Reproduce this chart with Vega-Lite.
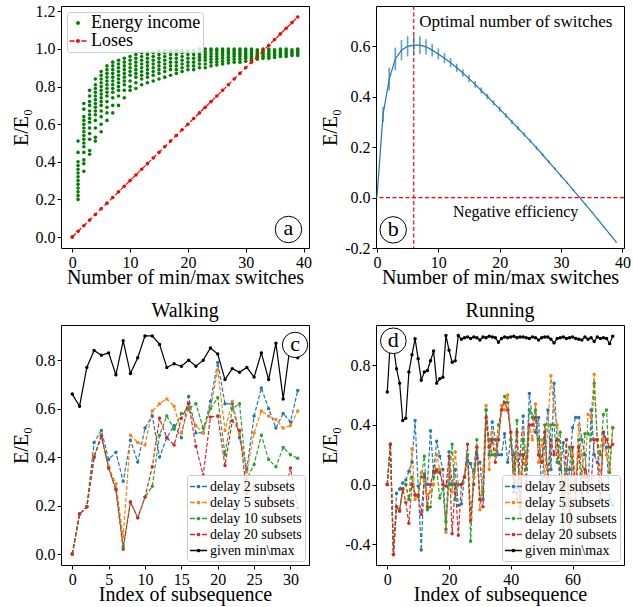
{
"$schema":"https://vega.github.io/schema/vega-lite/v6.json",
"padding":{"left":10,"top":2,"right":5,"bottom":2},
"background":"white",
"config":{
 "font":"Liberation Serif",
 "view":{"stroke":"black","strokeWidth":1},
 "axis":{"domain":false,"grid":false,"tickColor":"black","tickSize":4,"tickWidth":1,"labelColor":"black","labelFontSize":16,"labelPadding":2,"titleFontSize":20,"titleFontWeight":"normal","titleColor":"black","labelFlush":false,"labelOverlap":false},
 "axisY":{"titlePadding":4},
 "axisX":{"titlePadding":-3},
 "title":{"fontSize":20,"fontWeight":"normal","offset":0,"color":"black"},
 "legend":{"fillColor":"rgba(255,255,255,0.8)","strokeColor":"#cccccc","cornerRadius":3,"labelColor":"black"}
},
"resolve":{"scale":{"color":"independent","shape":"independent"},"legend":{"color":"independent","shape":"independent"}},
"datasets":{
"energy":[{"x":0,"y":0},
{"x":1,"y":0.2},{"x":1,"y":0.22},{"x":1,"y":0.24},{"x":1,"y":0.26},{"x":1,"y":0.28},{"x":1,"y":0.3},{"x":1,"y":0.32},{"x":1,"y":0.34},{"x":1,"y":0.36},{"x":1,"y":0.38},{"x":1,"y":0.4},{"x":1,"y":0.45},{"x":1,"y":0.51},
{"x":2,"y":0.35},{"x":2,"y":0.39},{"x":2,"y":0.41},{"x":2,"y":0.45},{"x":2,"y":0.48},{"x":2,"y":0.5},{"x":2,"y":0.52},{"x":2,"y":0.54},{"x":2,"y":0.56},{"x":2,"y":0.58},{"x":2,"y":0.6},{"x":2,"y":0.62},{"x":2,"y":0.64},{"x":2,"y":0.68},{"x":2,"y":0.71},
{"x":3,"y":0.44},{"x":3,"y":0.46},{"x":3,"y":0.52},{"x":3,"y":0.55},{"x":3,"y":0.58},{"x":3,"y":0.61},{"x":3,"y":0.63},{"x":3,"y":0.65},{"x":3,"y":0.67},{"x":3,"y":0.7},{"x":3,"y":0.72},{"x":3,"y":0.75},{"x":3,"y":0.78},
{"x":4,"y":0.51},{"x":4,"y":0.53},{"x":4,"y":0.58},{"x":4,"y":0.62},{"x":4,"y":0.65},{"x":4,"y":0.67},{"x":4,"y":0.69},{"x":4,"y":0.71},{"x":4,"y":0.73},{"x":4,"y":0.75},{"x":4,"y":0.77},{"x":4,"y":0.79},{"x":4,"y":0.81},{"x":4,"y":0.84},
{"x":5,"y":0.56},{"x":5,"y":0.6},{"x":5,"y":0.64},{"x":5,"y":0.67},{"x":5,"y":0.7},{"x":5,"y":0.72},{"x":5,"y":0.74},{"x":5,"y":0.76},{"x":5,"y":0.78},{"x":5,"y":0.8},{"x":5,"y":0.82},{"x":5,"y":0.84},{"x":5,"y":0.86},{"x":5,"y":0.88},
{"x":6,"y":0.62},{"x":6,"y":0.66},{"x":6,"y":0.69},{"x":6,"y":0.72},{"x":6,"y":0.75},{"x":6,"y":0.77},{"x":6,"y":0.79},{"x":6,"y":0.81},{"x":6,"y":0.83},{"x":6,"y":0.85},{"x":6,"y":0.87},{"x":6,"y":0.89},{"x":6,"y":0.91},
{"x":7,"y":0.66},{"x":7,"y":0.7},{"x":7,"y":0.74},{"x":7,"y":0.77},{"x":7,"y":0.79},{"x":7,"y":0.81},{"x":7,"y":0.83},{"x":7,"y":0.85},{"x":7,"y":0.87},{"x":7,"y":0.89},{"x":7,"y":0.91},{"x":7,"y":0.93},
{"x":8,"y":0.7},{"x":8,"y":0.75},{"x":8,"y":0.78},{"x":8,"y":0.8},{"x":8,"y":0.82},{"x":8,"y":0.84},{"x":8,"y":0.86},{"x":8,"y":0.88},{"x":8,"y":0.9},{"x":8,"y":0.92},{"x":8,"y":0.94},
{"x":9,"y":0.74},{"x":9,"y":0.78},{"x":9,"y":0.81},{"x":9,"y":0.83},{"x":9,"y":0.85},{"x":9,"y":0.87},{"x":9,"y":0.89},{"x":9,"y":0.91},{"x":9,"y":0.93},{"x":9,"y":0.95},
{"x":10,"y":0.78},{"x":10,"y":0.8},{"x":10,"y":0.83},{"x":10,"y":0.86},{"x":10,"y":0.88},{"x":10,"y":0.9},{"x":10,"y":0.92},{"x":10,"y":0.94},{"x":10,"y":0.96},
{"x":11,"y":0.79},{"x":11,"y":0.82},{"x":11,"y":0.85},{"x":11,"y":0.87},{"x":11,"y":0.89},{"x":11,"y":0.91},{"x":11,"y":0.93},{"x":11,"y":0.95},{"x":11,"y":0.97},
{"x":12,"y":0.81},{"x":12,"y":0.84},{"x":12,"y":0.86},{"x":12,"y":0.88},{"x":12,"y":0.9},{"x":12,"y":0.92},{"x":12,"y":0.94},{"x":12,"y":0.96},{"x":12,"y":0.98},
{"x":13,"y":0.82},{"x":13,"y":0.85},{"x":13,"y":0.87},{"x":13,"y":0.89},{"x":13,"y":0.91},{"x":13,"y":0.93},{"x":13,"y":0.95},{"x":13,"y":0.97},{"x":13,"y":0.98},
{"x":14,"y":0.83},{"x":14,"y":0.86},{"x":14,"y":0.88},{"x":14,"y":0.9},{"x":14,"y":0.92},{"x":14,"y":0.94},{"x":14,"y":0.96},{"x":14,"y":0.98},
{"x":15,"y":0.84},{"x":15,"y":0.87},{"x":15,"y":0.89},{"x":15,"y":0.91},{"x":15,"y":0.93},{"x":15,"y":0.95},{"x":15,"y":0.97},{"x":15,"y":0.99},
{"x":16,"y":0.85},{"x":16,"y":0.88},{"x":16,"y":0.9},{"x":16,"y":0.92},{"x":16,"y":0.94},{"x":16,"y":0.96},{"x":16,"y":0.98},{"x":16,"y":0.99},
{"x":17,"y":0.86},{"x":17,"y":0.89},{"x":17,"y":0.91},{"x":17,"y":0.93},{"x":17,"y":0.95},{"x":17,"y":0.97},{"x":17,"y":0.99},
{"x":18,"y":0.87},{"x":18,"y":0.89},{"x":18,"y":0.91},{"x":18,"y":0.93},{"x":18,"y":0.95},{"x":18,"y":0.97},{"x":18,"y":0.99},
{"x":19,"y":0.88},{"x":19,"y":0.9},{"x":19,"y":0.92},{"x":19,"y":0.94},{"x":19,"y":0.96},{"x":19,"y":0.98},{"x":19,"y":0.99},
{"x":20,"y":0.89},{"x":20,"y":0.91},{"x":20,"y":0.93},{"x":20,"y":0.95},{"x":20,"y":0.97},{"x":20,"y":0.99},
{"x":21,"y":0.89},{"x":21,"y":0.91},{"x":21,"y":0.93},{"x":21,"y":0.95},{"x":21,"y":0.97},{"x":21,"y":0.99},
{"x":22,"y":0.9},{"x":22,"y":0.92},{"x":22,"y":0.94},{"x":22,"y":0.955},{"x":22,"y":0.97},{"x":22,"y":0.985},{"x":22,"y":1.0},
{"x":23,"y":0.9},{"x":23,"y":0.92},{"x":23,"y":0.94},{"x":23,"y":0.955},{"x":23,"y":0.97},{"x":23,"y":0.985},{"x":23,"y":1.0},
{"x":24,"y":0.91},{"x":24,"y":0.93},{"x":24,"y":0.945},{"x":24,"y":0.96},{"x":24,"y":0.975},{"x":24,"y":0.99},{"x":24,"y":1.0},
{"x":25,"y":0.915},{"x":25,"y":0.93},{"x":25,"y":0.945},{"x":25,"y":0.96},{"x":25,"y":0.975},{"x":25,"y":0.99},{"x":25,"y":1.0},
{"x":26,"y":0.92},{"x":26,"y":0.935},{"x":26,"y":0.95},{"x":26,"y":0.965},{"x":26,"y":0.98},{"x":26,"y":0.99},{"x":26,"y":1.0},
{"x":27,"y":0.925},{"x":27,"y":0.94},{"x":27,"y":0.955},{"x":27,"y":0.97},{"x":27,"y":0.98},{"x":27,"y":0.99},{"x":27,"y":1.0},
{"x":28,"y":0.93},{"x":28,"y":0.945},{"x":28,"y":0.96},{"x":28,"y":0.97},{"x":28,"y":0.98},{"x":28,"y":0.99},{"x":28,"y":1.0},
{"x":29,"y":0.93},{"x":29,"y":0.945},{"x":29,"y":0.96},{"x":29,"y":0.97},{"x":29,"y":0.98},{"x":29,"y":0.99},{"x":29,"y":1.0},
{"x":30,"y":0.935},{"x":30,"y":0.95},{"x":30,"y":0.96},{"x":30,"y":0.97},{"x":30,"y":0.98},{"x":30,"y":0.99},{"x":30,"y":1.0},
{"x":31,"y":0.94},{"x":31,"y":0.95},{"x":31,"y":0.96},{"x":31,"y":0.97},{"x":31,"y":0.98},{"x":31,"y":0.99},{"x":31,"y":1.0},
{"x":32,"y":0.945},{"x":32,"y":0.955},{"x":32,"y":0.965},{"x":32,"y":0.975},{"x":32,"y":0.985},{"x":32,"y":0.995},
{"x":33,"y":0.95},{"x":33,"y":0.96},{"x":33,"y":0.97},{"x":33,"y":0.98},{"x":33,"y":0.99},{"x":33,"y":1.0},
{"x":34,"y":0.95},{"x":34,"y":0.96},{"x":34,"y":0.97},{"x":34,"y":0.98},{"x":34,"y":0.99},{"x":34,"y":1.0},
{"x":35,"y":0.955},{"x":35,"y":0.965},{"x":35,"y":0.975},{"x":35,"y":0.985},{"x":35,"y":0.995},
{"x":36,"y":0.96},{"x":36,"y":0.97},{"x":36,"y":0.98},{"x":36,"y":0.99},{"x":36,"y":1.0},
{"x":37,"y":0.96},{"x":37,"y":0.97},{"x":37,"y":0.98},{"x":37,"y":0.99},{"x":37,"y":1.0},
{"x":38,"y":0.965},{"x":38,"y":0.975},{"x":38,"y":0.985},{"x":38,"y":0.995},
{"x":39,"y":0.965},{"x":39,"y":0.975},{"x":39,"y":0.985},{"x":39,"y":0.995},{"x":39,"y":1.0}],
"loses":[{"x":0,"y":0},{"x":1,"y":0.03},{"x":2,"y":0.06},{"x":3,"y":0.09},{"x":4,"y":0.12},{"x":5,"y":0.15},{"x":6,"y":0.18},{"x":7,"y":0.21},{"x":8,"y":0.24},{"x":9,"y":0.27},{"x":10,"y":0.3},{"x":11,"y":0.33},{"x":12,"y":0.36},{"x":13,"y":0.39},{"x":14,"y":0.42},{"x":15,"y":0.45},{"x":16,"y":0.48},{"x":17,"y":0.51},{"x":18,"y":0.54},{"x":19,"y":0.57},{"x":20,"y":0.6},{"x":21,"y":0.63},{"x":22,"y":0.66},{"x":23,"y":0.69},{"x":24,"y":0.72},{"x":25,"y":0.75},{"x":26,"y":0.78},{"x":27,"y":0.81},{"x":28,"y":0.84},{"x":29,"y":0.87},{"x":30,"y":0.9},{"x":31,"y":0.93},{"x":32,"y":0.96},{"x":33,"y":0.99},{"x":34,"y":1.02},{"x":35,"y":1.05},{"x":36,"y":1.08},{"x":37,"y":1.11},{"x":38,"y":1.14},{"x":39,"y":1.17}],
"eff":[{"x":0,"y":0,"e":0},{"x":1,"y":0.33,"e":0.03},{"x":2,"y":0.47,"e":0.045},{"x":3,"y":0.55,"e":0.045},{"x":4,"y":0.585,"e":0.04},{"x":5,"y":0.6,"e":0.04},{"x":6,"y":0.605,"e":0.038},{"x":7,"y":0.605,"e":0.035},{"x":8,"y":0.598,"e":0.03},{"x":9,"y":0.585,"e":0.025},{"x":10,"y":0.57,"e":0.022},{"x":11,"y":0.553,"e":0.02},{"x":12,"y":0.535,"e":0.018},{"x":13,"y":0.515,"e":0.016},{"x":14,"y":0.494,"e":0.015},{"x":15,"y":0.472,"e":0.014},{"x":16,"y":0.449,"e":0.013},{"x":17,"y":0.425,"e":0.012},{"x":18,"y":0.401,"e":0.011},{"x":19,"y":0.376,"e":0.01},{"x":20,"y":0.351,"e":0.01},{"x":21,"y":0.326,"e":0.009},{"x":22,"y":0.3,"e":0.009},{"x":23,"y":0.275,"e":0.008},{"x":24,"y":0.25,"e":0.008},{"x":25,"y":0.224,"e":0.007},{"x":26,"y":0.197,"e":0.007},{"x":27,"y":0.17,"e":0.006},{"x":28,"y":0.142,"e":0.006},{"x":29,"y":0.114,"e":0.005},{"x":30,"y":0.086,"e":0.005},{"x":31,"y":0.058,"e":0.004},{"x":32,"y":0.03,"e":0.004},{"x":33,"y":0.001,"e":0.003},{"x":34,"y":-0.028,"e":0.003},{"x":35,"y":-0.057,"e":0.003},{"x":36,"y":-0.087,"e":0.003},{"x":37,"y":-0.117,"e":0.002},{"x":38,"y":-0.147,"e":0.002},{"x":39,"y":-0.177,"e":0.002}],
"walk":[
{"i":0,"s":"2","v":0},{"i":1,"s":"2","v":0.165},{"i":2,"s":"2","v":0.195},{"i":3,"s":"2","v":0.46},{"i":4,"s":"2","v":0.51},{"i":5,"s":"2","v":0.39},{"i":6,"s":"2","v":0.42},{"i":7,"s":"2","v":0.3},{"i":8,"s":"2","v":0.47},{"i":9,"s":"2","v":0.38},{"i":10,"s":"2","v":0.52},{"i":11,"s":"2","v":0.57},{"i":12,"s":"2","v":0.4},{"i":13,"s":"2","v":0.48},{"i":14,"s":"2","v":0.53},{"i":15,"s":"2","v":0.48},{"i":16,"s":"2","v":0.65},{"i":17,"s":"2","v":0.5},{"i":18,"s":"2","v":0.5},{"i":19,"s":"2","v":0.63},{"i":20,"s":"2","v":0.79},{"i":21,"s":"2","v":0.62},{"i":22,"s":"2","v":0.62},{"i":23,"s":"2","v":0.48},{"i":24,"s":"2","v":0.35},{"i":25,"s":"2","v":0.57},{"i":26,"s":"2","v":0.685},{"i":27,"s":"2","v":0.6},{"i":28,"s":"2","v":0.52},{"i":29,"s":"2","v":0.58},{"i":30,"s":"2","v":0.545},{"i":31,"s":"2","v":0.675},
{"i":0,"s":"5","v":0},{"i":1,"s":"5","v":0.165},{"i":2,"s":"5","v":0.195},{"i":3,"s":"5","v":0.4},{"i":4,"s":"5","v":0.49},{"i":5,"s":"5","v":0.36},{"i":6,"s":"5","v":0.29},{"i":7,"s":"5","v":0.07},{"i":8,"s":"5","v":0.49},{"i":9,"s":"5","v":0.46},{"i":10,"s":"5","v":0.45},{"i":11,"s":"5","v":0.59},{"i":12,"s":"5","v":0.62},{"i":13,"s":"5","v":0.64},{"i":14,"s":"5","v":0.61},{"i":15,"s":"5","v":0.5},{"i":16,"s":"5","v":0.6},{"i":17,"s":"5","v":0.53},{"i":18,"s":"5","v":0.5},{"i":19,"s":"5","v":0.6},{"i":20,"s":"5","v":0.76},{"i":21,"s":"5","v":0.51},{"i":22,"s":"5","v":0.63},{"i":23,"s":"5","v":0.5},{"i":24,"s":"5","v":0.34},{"i":25,"s":"5","v":0.5},{"i":26,"s":"5","v":0.59},{"i":27,"s":"5","v":0.57},{"i":28,"s":"5","v":0.555},{"i":29,"s":"5","v":0.52},{"i":30,"s":"5","v":0.53},{"i":31,"s":"5","v":0.59},
{"i":0,"s":"10","v":0},{"i":1,"s":"10","v":0.165},{"i":2,"s":"10","v":0.195},{"i":3,"s":"10","v":0.4},{"i":4,"s":"10","v":0.49},{"i":5,"s":"10","v":0.355},{"i":6,"s":"10","v":0.27},{"i":7,"s":"10","v":0.03},{"i":8,"s":"10","v":0.215},{"i":9,"s":"10","v":0.15},{"i":10,"s":"10","v":0.235},{"i":11,"s":"10","v":0.28},{"i":12,"s":"10","v":0.49},{"i":13,"s":"10","v":0.57},{"i":14,"s":"10","v":0.515},{"i":15,"s":"10","v":0.58},{"i":16,"s":"10","v":0.6},{"i":17,"s":"10","v":0.62},{"i":18,"s":"10","v":0.52},{"i":19,"s":"10","v":0.6},{"i":20,"s":"10","v":0.645},{"i":21,"s":"10","v":0.41},{"i":22,"s":"10","v":0.6},{"i":23,"s":"10","v":0.62},{"i":24,"s":"10","v":0.31},{"i":25,"s":"10","v":0.37},{"i":26,"s":"10","v":0.49},{"i":27,"s":"10","v":0.39},{"i":28,"s":"10","v":0.36},{"i":29,"s":"10","v":0.44},{"i":30,"s":"10","v":0.41},{"i":31,"s":"10","v":0.395},
{"i":0,"s":"20","v":0},{"i":1,"s":"20","v":0.165},{"i":2,"s":"20","v":0.195},{"i":3,"s":"20","v":0.4},{"i":4,"s":"20","v":0.485},{"i":5,"s":"20","v":0.355},{"i":6,"s":"20","v":0.265},{"i":7,"s":"20","v":0.02},{"i":8,"s":"20","v":0.215},{"i":9,"s":"20","v":0.15},{"i":10,"s":"20","v":0.235},{"i":11,"s":"20","v":0.36},{"i":12,"s":"20","v":0.56},{"i":13,"s":"20","v":0.48},{"i":14,"s":"20","v":0.45},{"i":15,"s":"20","v":0.56},{"i":16,"s":"20","v":0.62},{"i":17,"s":"20","v":0.445},{"i":18,"s":"20","v":0.325},{"i":19,"s":"20","v":0.565},{"i":20,"s":"20","v":0.57},{"i":21,"s":"20","v":0.365},{"i":22,"s":"20","v":0.55},{"i":23,"s":"20","v":0.51},{"i":24,"s":"20","v":0.25},{"i":25,"s":"20","v":0.28},{"i":26,"s":"20","v":0.195},{"i":27,"s":"20","v":0.24},{"i":28,"s":"20","v":0.14},{"i":29,"s":"20","v":0.22},{"i":30,"s":"20","v":0.355},{"i":31,"s":"20","v":0.19}],
"walkg":[{"i":0,"v":0.66},{"i":1,"v":0.61},{"i":2,"v":0.77},{"i":3,"v":0.84},{"i":4,"v":0.82},{"i":5,"v":0.83},{"i":6,"v":0.74},{"i":7,"v":0.88},{"i":8,"v":0.745},{"i":9,"v":0.81},{"i":10,"v":0.9},{"i":11,"v":0.9},{"i":12,"v":0.865},{"i":13,"v":0.77},{"i":14,"v":0.785},{"i":15,"v":0.775},{"i":16,"v":0.8},{"i":17,"v":0.775},{"i":18,"v":0.8},{"i":19,"v":0.85},{"i":20,"v":0.825},{"i":21,"v":0.72},{"i":22,"v":0.765},{"i":23,"v":0.75},{"i":24,"v":0.77},{"i":25,"v":0.73},{"i":26,"v":0.83},{"i":27,"v":0.72},{"i":28,"v":0.87},{"i":29,"v":0.64},{"i":30,"v":0.87},{"i":31,"v":0.81}],
"run":[
{"i":0,"s":"2","v":0},{"i":1,"s":"2","v":0.27},{"i":2,"s":"2","v":-0.47},{"i":3,"s":"2","v":-0.06},{"i":4,"s":"2","v":-0.03},{"i":5,"s":"2","v":0.01},{"i":6,"s":"2","v":0.03},{"i":7,"s":"2","v":0.09},{"i":8,"s":"2","v":0.15},{"i":9,"s":"2","v":0.43},{"i":10,"s":"2","v":-0.01},{"i":11,"s":"2","v":-0.44},{"i":12,"s":"2","v":0.07},{"i":13,"s":"2","v":0},{"i":14,"s":"2","v":0.36},{"i":15,"s":"2","v":0.08},{"i":16,"s":"2","v":0.29},{"i":17,"s":"2","v":0.19},{"i":18,"s":"2","v":0.1},{"i":19,"s":"2","v":-0.3},{"i":20,"s":"2","v":0.22},{"i":21,"s":"2","v":0},{"i":22,"s":"2","v":0.1},{"i":23,"s":"2","v":-0.14},{"i":24,"s":"2","v":-0.13},{"i":25,"s":"2","v":0.05},{"i":26,"s":"2","v":0.16},{"i":27,"s":"2","v":0.14},{"i":28,"s":"2","v":0.05},{"i":29,"s":"2","v":0.2},{"i":30,"s":"2","v":0.15},{"i":31,"s":"2","v":-0.1},{"i":32,"s":"2","v":0.5},{"i":33,"s":"2","v":0.2},{"i":34,"s":"2","v":0.42},{"i":35,"s":"2","v":0.3},{"i":36,"s":"2","v":0.2},{"i":37,"s":"2","v":0.2},{"i":38,"s":"2","v":0.34},{"i":39,"s":"2","v":0.15},{"i":40,"s":"2","v":0.3},{"i":41,"s":"2","v":0.2},{"i":42,"s":"2","v":-0.1},{"i":43,"s":"2","v":0.2},{"i":44,"s":"2","v":0.46},{"i":45,"s":"2","v":0.1},{"i":46,"s":"2","v":0.61},{"i":47,"s":"2","v":0.45},{"i":48,"s":"2","v":0.35},{"i":49,"s":"2","v":0.45},{"i":50,"s":"2","v":-0.08},{"i":51,"s":"2","v":0.3},{"i":52,"s":"2","v":0.5},{"i":53,"s":"2","v":0.1},{"i":54,"s":"2","v":0.68},{"i":55,"s":"2","v":0.3},{"i":56,"s":"2","v":0.1},{"i":57,"s":"2","v":0.28},{"i":58,"s":"2","v":-0.15},{"i":59,"s":"2","v":0.1},{"i":60,"s":"2","v":0.38},{"i":61,"s":"2","v":0.45},{"i":62,"s":"2","v":0.45},{"i":63,"s":"2","v":0.3},{"i":64,"s":"2","v":0.2},{"i":65,"s":"2","v":-0.05},{"i":66,"s":"2","v":0.5},{"i":67,"s":"2","v":0.2},{"i":68,"s":"2","v":0.15},{"i":69,"s":"2","v":-0.1},{"i":70,"s":"2","v":0.35},{"i":71,"s":"2","v":0.25},{"i":72,"s":"2","v":-0.1},{"i":73,"s":"2","v":-0.14},
{"i":0,"s":"5","v":0},{"i":1,"s":"5","v":0.27},{"i":2,"s":"5","v":-0.47},{"i":3,"s":"5","v":-0.15},{"i":4,"s":"5","v":-0.17},{"i":5,"s":"5","v":-0.03},{"i":6,"s":"5","v":0},{"i":7,"s":"5","v":-0.1},{"i":8,"s":"5","v":0.24},{"i":9,"s":"5","v":-0.1},{"i":10,"s":"5","v":-0.08},{"i":11,"s":"5","v":0.08},{"i":12,"s":"5","v":0.03},{"i":13,"s":"5","v":-0.07},{"i":14,"s":"5","v":-0.05},{"i":15,"s":"5","v":0},{"i":16,"s":"5","v":0.2},{"i":17,"s":"5","v":0.1},{"i":18,"s":"5","v":0},{"i":19,"s":"5","v":-0.32},{"i":20,"s":"5","v":0.1},{"i":21,"s":"5","v":-0.05},{"i":22,"s":"5","v":0.22},{"i":23,"s":"5","v":0},{"i":24,"s":"5","v":0},{"i":25,"s":"5","v":0.05},{"i":26,"s":"5","v":0.2},{"i":27,"s":"5","v":-0.22},{"i":28,"s":"5","v":0.05},{"i":29,"s":"5","v":0.25},{"i":30,"s":"5","v":-0.17},{"i":31,"s":"5","v":0.1},{"i":32,"s":"5","v":0.53},{"i":33,"s":"5","v":0.1},{"i":34,"s":"5","v":0.35},{"i":35,"s":"5","v":0.2},{"i":36,"s":"5","v":0.3},{"i":37,"s":"5","v":0.53},{"i":38,"s":"5","v":0.5},{"i":39,"s":"5","v":0.6},{"i":40,"s":"5","v":0.3},{"i":41,"s":"5","v":0.05},{"i":42,"s":"5","v":0.2},{"i":43,"s":"5","v":0},{"i":44,"s":"5","v":0.35},{"i":45,"s":"5","v":0.15},{"i":46,"s":"5","v":0.4},{"i":47,"s":"5","v":0.3},{"i":48,"s":"5","v":0.54},{"i":49,"s":"5","v":0.15},{"i":50,"s":"5","v":0.3},{"i":51,"s":"5","v":0.05},{"i":52,"s":"5","v":0.4},{"i":53,"s":"5","v":0.73},{"i":54,"s":"5","v":0.5},{"i":55,"s":"5","v":0.4},{"i":56,"s":"5","v":0.2},{"i":57,"s":"5","v":-0.05},{"i":58,"s":"5","v":0.1},{"i":59,"s":"5","v":-0.2},{"i":60,"s":"5","v":0.2},{"i":61,"s":"5","v":0},{"i":62,"s":"5","v":0.4},{"i":63,"s":"5","v":0.2},{"i":64,"s":"5","v":0.05},{"i":65,"s":"5","v":0.47},{"i":66,"s":"5","v":0.45},{"i":67,"s":"5","v":0.74},{"i":68,"s":"5","v":0.3},{"i":69,"s":"5","v":0.05},{"i":70,"s":"5","v":0.3},{"i":71,"s":"5","v":0.2},{"i":72,"s":"5","v":0.1},{"i":73,"s":"5","v":0.38},
{"i":0,"s":"10","v":0},{"i":1,"s":"10","v":0.27},{"i":2,"s":"10","v":-0.47},{"i":3,"s":"10","v":-0.15},{"i":4,"s":"10","v":-0.17},{"i":5,"s":"10","v":-0.03},{"i":6,"s":"10","v":0},{"i":7,"s":"10","v":-0.1},{"i":8,"s":"10","v":0.05},{"i":9,"s":"10","v":-0.07},{"i":10,"s":"10","v":-0.08},{"i":11,"s":"10","v":0.05},{"i":12,"s":"10","v":0.19},{"i":13,"s":"10","v":-0.17},{"i":14,"s":"10","v":-0.15},{"i":15,"s":"10","v":0.05},{"i":16,"s":"10","v":0.1},{"i":17,"s":"10","v":-0.09},{"i":18,"s":"10","v":-0.03},{"i":19,"s":"10","v":-0.25},{"i":20,"s":"10","v":0},{"i":21,"s":"10","v":0.27},{"i":22,"s":"10","v":-0.1},{"i":23,"s":"10","v":0},{"i":24,"s":"10","v":0},{"i":25,"s":"10","v":0.05},{"i":26,"s":"10","v":0.2},{"i":27,"s":"10","v":-0.38},{"i":28,"s":"10","v":0.1},{"i":29,"s":"10","v":0.3},{"i":30,"s":"10","v":-0.1},{"i":31,"s":"10","v":-0.05},{"i":32,"s":"10","v":0.5},{"i":33,"s":"10","v":0.3},{"i":34,"s":"10","v":0.2},{"i":35,"s":"10","v":0.2},{"i":36,"s":"10","v":0.4},{"i":37,"s":"10","v":0.5},{"i":38,"s":"10","v":0.59},{"i":39,"s":"10","v":0.55},{"i":40,"s":"10","v":0.3},{"i":41,"s":"10","v":0.1},{"i":42,"s":"10","v":0.43},{"i":43,"s":"10","v":-0.2},{"i":44,"s":"10","v":0.3},{"i":45,"s":"10","v":0.1},{"i":46,"s":"10","v":0.5},{"i":47,"s":"10","v":0.45},{"i":48,"s":"10","v":0.5},{"i":49,"s":"10","v":0.3},{"i":50,"s":"10","v":0.15},{"i":51,"s":"10","v":0.4},{"i":52,"s":"10","v":0.05},{"i":53,"s":"10","v":0.4},{"i":54,"s":"10","v":0.4},{"i":55,"s":"10","v":0.15},{"i":56,"s":"10","v":0.35},{"i":57,"s":"10","v":-0.3},{"i":58,"s":"10","v":0.1},{"i":59,"s":"10","v":0.25},{"i":60,"s":"10","v":0.15},{"i":61,"s":"10","v":-0.1},{"i":62,"s":"10","v":0.3},{"i":63,"s":"10","v":0.05},{"i":64,"s":"10","v":0.34},{"i":65,"s":"10","v":0.34},{"i":66,"s":"10","v":0.3},{"i":67,"s":"10","v":0.68},{"i":68,"s":"10","v":0.3},{"i":69,"s":"10","v":0.2},{"i":70,"s":"10","v":0.47},{"i":71,"s":"10","v":0.5},{"i":72,"s":"10","v":0.08},{"i":73,"s":"10","v":0.38},
{"i":0,"s":"20","v":0},{"i":1,"s":"20","v":0.27},{"i":2,"s":"20","v":-0.47},{"i":3,"s":"20","v":-0.15},{"i":4,"s":"20","v":-0.18},{"i":5,"s":"20","v":-0.03},{"i":6,"s":"20","v":-0.12},{"i":7,"s":"20","v":-0.26},{"i":8,"s":"20","v":0},{"i":9,"s":"20","v":-0.07},{"i":10,"s":"20","v":-0.07},{"i":11,"s":"20","v":-0.2},{"i":12,"s":"20","v":0.05},{"i":13,"s":"20","v":-0.15},{"i":14,"s":"20","v":0},{"i":15,"s":"20","v":0.09},{"i":16,"s":"20","v":0.09},{"i":17,"s":"20","v":0.08},{"i":18,"s":"20","v":0},{"i":19,"s":"20","v":-0.01},{"i":20,"s":"20","v":0.19},{"i":21,"s":"20","v":-0.33},{"i":22,"s":"20","v":0},{"i":23,"s":"20","v":-0.34},{"i":24,"s":"20","v":0},{"i":25,"s":"20","v":0.05},{"i":26,"s":"20","v":0.27},{"i":27,"s":"20","v":-0.24},{"i":28,"s":"20","v":0},{"i":29,"s":"20","v":0.25},{"i":30,"s":"20","v":-0.1},{"i":31,"s":"20","v":-0.15},{"i":32,"s":"20","v":0.45},{"i":33,"s":"20","v":0.25},{"i":34,"s":"20","v":0.3},{"i":35,"s":"20","v":0.15},{"i":36,"s":"20","v":0.3},{"i":37,"s":"20","v":0.5},{"i":38,"s":"20","v":0.55},{"i":39,"s":"20","v":0.5},{"i":40,"s":"20","v":0.35},{"i":41,"s":"20","v":-0.05},{"i":42,"s":"20","v":0.35},{"i":43,"s":"20","v":-0.15},{"i":44,"s":"20","v":0.2},{"i":45,"s":"20","v":0},{"i":46,"s":"20","v":0.4},{"i":47,"s":"20","v":0.4},{"i":48,"s":"20","v":0.45},{"i":49,"s":"20","v":0.2},{"i":50,"s":"20","v":0.15},{"i":51,"s":"20","v":0.35},{"i":52,"s":"20","v":0},{"i":53,"s":"20","v":0.3},{"i":54,"s":"20","v":0.2},{"i":55,"s":"20","v":0.3},{"i":56,"s":"20","v":0},{"i":57,"s":"20","v":-0.1},{"i":58,"s":"20","v":0.3},{"i":59,"s":"20","v":-0.3},{"i":60,"s":"20","v":0.25},{"i":61,"s":"20","v":-0.05},{"i":62,"s":"20","v":0.25},{"i":63,"s":"20","v":-0.1},{"i":64,"s":"20","v":0.1},{"i":65,"s":"20","v":0.05},{"i":66,"s":"20","v":0},{"i":67,"s":"20","v":0.3},{"i":68,"s":"20","v":0.3},{"i":69,"s":"20","v":-0.1},{"i":70,"s":"20","v":0.35},{"i":71,"s":"20","v":0.3},{"i":72,"s":"20","v":0.25},{"i":73,"s":"20","v":0.27}],
"rung":[{"i":0,"v":0.62},{"i":1,"v":0.97},{"i":2,"v":0.93},{"i":3,"v":0.776},{"i":4,"v":0.68},{"i":5,"v":0.43},{"i":6,"v":0.445},{"i":7,"v":0.754},{"i":8,"v":0.87},{"i":9,"v":0.978},{"i":10,"v":0.843},{"i":11,"v":0.7},{"i":12,"v":0.754},{"i":13,"v":0.765},{"i":14,"v":0.83},{"i":15,"v":0.895},{"i":16,"v":0.68},{"i":17,"v":0.709},{"i":18,"v":0.72},{"i":19,"v":1.0},{"i":20,"v":0.9},{"i":21,"v":0.82},{"i":22,"v":0.83},{"i":23,"v":1.0},{"i":24,"v":0.975},{"i":25,"v":0.985},{"i":26,"v":0.99},{"i":27,"v":0.98},{"i":28,"v":0.99},{"i":29,"v":0.985},{"i":30,"v":0.97},{"i":31,"v":0.99},{"i":32,"v":0.985},{"i":33,"v":0.995},{"i":34,"v":0.99},{"i":35,"v":0.985},{"i":36,"v":0.955},{"i":37,"v":0.98},{"i":38,"v":0.99},{"i":39,"v":0.985},{"i":40,"v":0.99},{"i":41,"v":0.995},{"i":42,"v":0.985},{"i":43,"v":0.99},{"i":44,"v":0.99},{"i":45,"v":0.985},{"i":46,"v":0.98},{"i":47,"v":0.99},{"i":48,"v":0.985},{"i":49,"v":0.97},{"i":50,"v":0.985},{"i":51,"v":0.99},{"i":52,"v":0.99},{"i":53,"v":0.975},{"i":54,"v":0.95},{"i":55,"v":0.98},{"i":56,"v":0.985},{"i":57,"v":0.99},{"i":58,"v":0.98},{"i":59,"v":0.985},{"i":60,"v":0.99},{"i":61,"v":0.98},{"i":62,"v":0.975},{"i":63,"v":0.97},{"i":64,"v":0.99},{"i":65,"v":0.975},{"i":66,"v":0.985},{"i":67,"v":0.96},{"i":68,"v":0.99},{"i":69,"v":0.98},{"i":70,"v":0.985},{"i":71,"v":0.98},{"i":72,"v":0.945},{"i":73,"v":0.995}],
"serieskeys":[{"k":"2"},{"k":"5"},{"k":"10"},{"k":"20"},{"k":"given min\\max"}]
},
"columns":2,
"spacing":{"row":77,"column":67},
"bounds":"flush",
"concat":[
{"width":248,"height":242,
 "layer":[
  {"data":{"name":"energy"},"mark":{"type":"point","filled":true,"color":"#008000","size":13,"opacity":1},
   "encoding":{"x":{"field":"x","type":"quantitative","title":"Number of min/max switches","scale":{"domain":[-1.95,40.95],"nice":false,"zero":false},"axis":{"values":[0,5,10,15,20,25,30,35,40],"format":"d"}},
    "y":{"field":"y","type":"quantitative","title":"E/E₀","scale":{"domain":[-0.0585,1.2285],"nice":false,"zero":false},"axis":{"values":[0,0.2,0.4,0.6,0.8,1,1.2],"format":".1f"}}}},
  {"data":{"name":"loses"},"mark":{"type":"line","color":"#ff0000","strokeWidth":1.2,"strokeDash":[5,2.5],"point":{"filled":true,"color":"#ff0000","size":13}},
   "encoding":{"x":{"field":"x","type":"quantitative","title":"Number of min/max switches"},"y":{"field":"y","type":"quantitative","title":"E/E₀"}}},
  {"data":{"values":[{"n":"Energy income"},{"n":"Loses"}]},"mark":{"type":"point","filled":true,"opacity":0,"size":289},
   "encoding":{"color":{"field":"n","type":"nominal","scale":{"domain":["Energy income","Loses"],"range":["#008000","#ff0000"]},"legend":{"title":null,"orient":"top-left","offset":6,"labelFontSize":18,"symbolSize":289,"symbolStrokeWidth":0,"symbolOpacity":1,"padding":2,"rowPadding":-1,"labelOffset":4}},
    "shape":{"field":"n","type":"nominal","scale":{"domain":["Energy income","Loses"],"range":["M0.23,0A0.23,0.23 0 1,1 -0.23,0A0.23,0.23 0 1,1 0.23,0Z","M-1,-0.075H-0.4V0.075H-1Z M0.4,-0.075H1V0.075H0.4Z M0.23,0A0.23,0.23 0 1,1 -0.23,0A0.23,0.23 0 1,1 0.23,0Z"]},"legend":{"title":null,"orient":"top-left","offset":6,"labelFontSize":18,"symbolSize":289,"symbolStrokeWidth":0,"symbolOpacity":1,"padding":2,"rowPadding":-1,"labelOffset":4}}}},
  {"data":{"values":[{"x":37.4,"y":0.04,"t":"a"}]},
   "encoding":{"x":{"field":"x","type":"quantitative","title":"Number of min/max switches"},"y":{"field":"y","type":"quantitative","title":"E/E₀"}},
   "layer":[{"mark":{"type":"point","shape":"circle","size":700,"filled":true,"color":"white","stroke":"black","strokeWidth":1,"opacity":1}},
    {"mark":{"type":"text","fontSize":22,"baseline":"middle","dy":-1,"color":"black"},"encoding":{"text":{"field":"t"}}}]}
 ]},
{"width":248,"height":242,
 "layer":[
  {"data":{"values":[{"x":6}]},"mark":{"type":"rule","color":"#ff0000","strokeWidth":1.2,"strokeDash":[4,2.5]},
   "encoding":{"x":{"field":"x","type":"quantitative","title":"Number of min/max switches","scale":{"domain":[-0.15,40.25],"nice":false,"zero":false},"axis":{"values":[0,5,10,15,20,25,30,35,40],"format":"d"}}}},
  {"data":{"values":[{"y":0}]},"mark":{"type":"rule","color":"#ff0000","strokeWidth":1.2,"strokeDash":[4,2.5]},
   "encoding":{"y":{"field":"y","type":"quantitative","title":"E/E₀","scale":{"domain":[-0.2,0.76],"nice":false,"zero":false},"axis":{"values":[-0.2,0,0.2,0.4,0.6],"labelExpr":"replace(format(datum.value,'.1f'),'−','-')"}}}},
  {"data":{"name":"eff"},"mark":{"type":"errorbar","ticks":false,"color":"#1f77b4","thickness":1.6,"opacity":0.7},
   "encoding":{"x":{"field":"x","type":"quantitative","title":"Number of min/max switches"},"y":{"field":"y","type":"quantitative","title":"E/E₀"},"yError":{"field":"e"}}},
  {"data":{"name":"eff"},"mark":{"type":"line","color":"#1f77b4","strokeWidth":1.2},
   "encoding":{"x":{"field":"x","type":"quantitative","title":"Number of min/max switches"},"y":{"field":"y","type":"quantitative","title":"E/E₀"}}},
  {"data":{"values":[{"x":6.9,"y":0.698,"t":"Optimal number of switches"}]},"mark":{"type":"text","align":"left","baseline":"middle","fontSize":17,"color":"black"},
   "encoding":{"x":{"field":"x","type":"quantitative","title":"Number of min/max switches"},"y":{"field":"y","type":"quantitative","title":"E/E₀"},"text":{"field":"t"}}},
  {"data":{"values":[{"x":22.6,"y":-0.057,"t":"Negative efficiency"}]},"mark":{"type":"text","align":"center","baseline":"middle","fontSize":16,"color":"black"},
   "encoding":{"x":{"field":"x","type":"quantitative","title":"Number of min/max switches"},"y":{"field":"y","type":"quantitative","title":"E/E₀"},"text":{"field":"t"}}},
  {"data":{"values":[{"x":2.65,"y":-0.128,"t":"b"}]},
   "encoding":{"x":{"field":"x","type":"quantitative","title":"Number of min/max switches"},"y":{"field":"y","type":"quantitative","title":"E/E₀"}},
   "layer":[{"mark":{"type":"point","shape":"circle","size":700,"filled":true,"color":"white","stroke":"black","strokeWidth":1,"opacity":1}},
    {"mark":{"type":"text","fontSize":22,"baseline":"middle","dy":-1,"color":"black"},"encoding":{"text":{"field":"t"}}}]}
 ]},
{"width":248,"height":240,"title":"Walking",
 "resolve":{"scale":{"color":"independent","shape":"independent"}},
 "layer":[
  {"data":{"name":"walk"},"mark":{"type":"line","strokeWidth":1.2,"strokeDash":[4,2],"point":{"filled":true,"size":12}},
   "encoding":{"x":{"field":"i","type":"quantitative","title":"Index of subsequence","scale":{"domain":[-1.55,32.55],"nice":false,"zero":false},"axis":{"values":[0,5,10,15,20,25,30],"format":"d"}},
    "y":{"field":"v","type":"quantitative","title":"E/E₀","scale":{"domain":[-0.045,0.945],"nice":false,"zero":false},"axis":{"values":[0,0.2,0.4,0.6,0.8],"format":".1f"}},
    "color":{"field":"s","type":"nominal","scale":{"domain":["2","5","10","20"],"range":["#1f77b4","#ff7f0e","#2ca02c","#d62728"]},"legend":null}}},
  {"data":{"name":"walkg"},"mark":{"type":"line","color":"black","strokeWidth":1.2,"point":{"filled":true,"size":12,"color":"black"}},
   "encoding":{"x":{"field":"i","type":"quantitative","title":"Index of subsequence"},"y":{"field":"v","type":"quantitative","title":"E/E₀"}}},
  {"data":{"name":"serieskeys"},"mark":{"type":"point","filled":true,"opacity":0,"size":289},
   "encoding":{"color":{"field":"k","type":"nominal","scale":{"domain":["2","5","10","20","given min\\max"],"range":["#1f77b4","#ff7f0e","#2ca02c","#d62728","#000000"]},"legend":{"title":null,"orient":"bottom-right","offset":4,"labelFontSize":14,"symbolSize":289,"symbolStrokeWidth":0,"symbolOpacity":1,"padding":3,"rowPadding":-2,"labelOffset":3,"labelExpr":"length(datum.label) < 3 ? 'delay ' + datum.label + ' subsets' : datum.label"}},
    "shape":{"field":"k","type":"nominal","scale":{"domain":["2","5","10","20","given min\\max"],"range":["M-1,-0.075H-0.4V0.075H-1Z M0.4,-0.075H1V0.075H0.4Z M0.22,0A0.22,0.22 0 1,1 -0.22,0A0.22,0.22 0 1,1 0.22,0Z","M-1,-0.075H-0.4V0.075H-1Z M0.4,-0.075H1V0.075H0.4Z M0.22,0A0.22,0.22 0 1,1 -0.22,0A0.22,0.22 0 1,1 0.22,0Z","M-1,-0.075H-0.4V0.075H-1Z M0.4,-0.075H1V0.075H0.4Z M0.22,0A0.22,0.22 0 1,1 -0.22,0A0.22,0.22 0 1,1 0.22,0Z","M-1,-0.075H-0.4V0.075H-1Z M0.4,-0.075H1V0.075H0.4Z M0.22,0A0.22,0.22 0 1,1 -0.22,0A0.22,0.22 0 1,1 0.22,0Z","M-1,-0.075H1V0.075H-1Z M0.22,0A0.22,0.22 0 1,1 -0.22,0A0.22,0.22 0 1,1 0.22,0Z"]},"legend":{"title":null,"orient":"bottom-right","offset":4,"labelFontSize":14,"symbolSize":289,"symbolStrokeWidth":0,"symbolOpacity":1,"padding":3,"rowPadding":-2,"labelOffset":3,"labelExpr":"length(datum.label) < 3 ? 'delay ' + datum.label + ' subsets' : datum.label"}}}},
  {"data":{"values":[{"i":30.63,"v":0.863,"t":"c"}]},
   "encoding":{"x":{"field":"i","type":"quantitative","title":"Index of subsequence"},"y":{"field":"v","type":"quantitative","title":"E/E₀"}},
   "layer":[{"mark":{"type":"point","shape":"circle","size":640,"filled":true,"color":"white","stroke":"black","strokeWidth":1,"opacity":1}},
    {"mark":{"type":"text","fontSize":22,"baseline":"middle","dy":-1,"color":"black"},"encoding":{"text":{"field":"t"}}}]}
 ]},
{"width":248,"height":240,"title":"Running",
 "resolve":{"scale":{"color":"independent","shape":"independent"}},
 "layer":[
  {"data":{"name":"run"},"mark":{"type":"line","strokeWidth":1.2,"strokeDash":[4,2],"point":{"filled":true,"size":12}},
   "encoding":{"x":{"field":"i","type":"quantitative","title":"Index of subsequence","scale":{"domain":[-3.65,76.65],"nice":false,"zero":false},"axis":{"values":[0,10,20,30,40,50,60,70],"format":"d"}},
    "y":{"field":"v","type":"quantitative","title":"E/E₀","scale":{"domain":[-0.54,1.07],"nice":false,"zero":false},"axis":{"values":[-0.4,-0.2,0,0.2,0.4,0.6,0.8,1.0],"labelExpr":"replace(format(datum.value,'.1f'),'−','-')"}},
    "color":{"field":"s","type":"nominal","scale":{"domain":["2","5","10","20"],"range":["#1f77b4","#ff7f0e","#2ca02c","#d62728"]},"legend":null}}},
  {"data":{"name":"rung"},"mark":{"type":"line","color":"black","strokeWidth":1.2,"point":{"filled":true,"size":12,"color":"black"}},
   "encoding":{"x":{"field":"i","type":"quantitative","title":"Index of subsequence"},"y":{"field":"v","type":"quantitative","title":"E/E₀"}}},
  {"data":{"name":"serieskeys"},"mark":{"type":"point","filled":true,"opacity":0,"size":289},
   "encoding":{"color":{"field":"k","type":"nominal","scale":{"domain":["2","5","10","20","given min\\max"],"range":["#1f77b4","#ff7f0e","#2ca02c","#d62728","#000000"]},"legend":{"title":null,"orient":"bottom-right","offset":4,"labelFontSize":14,"symbolSize":289,"symbolStrokeWidth":0,"symbolOpacity":1,"padding":3,"rowPadding":-2,"labelOffset":3,"labelExpr":"length(datum.label) < 3 ? 'delay ' + datum.label + ' subsets' : datum.label"}},
    "shape":{"field":"k","type":"nominal","scale":{"domain":["2","5","10","20","given min\\max"],"range":["M-1,-0.075H-0.4V0.075H-1Z M0.4,-0.075H1V0.075H0.4Z M0.22,0A0.22,0.22 0 1,1 -0.22,0A0.22,0.22 0 1,1 0.22,0Z","M-1,-0.075H-0.4V0.075H-1Z M0.4,-0.075H1V0.075H0.4Z M0.22,0A0.22,0.22 0 1,1 -0.22,0A0.22,0.22 0 1,1 0.22,0Z","M-1,-0.075H-0.4V0.075H-1Z M0.4,-0.075H1V0.075H0.4Z M0.22,0A0.22,0.22 0 1,1 -0.22,0A0.22,0.22 0 1,1 0.22,0Z","M-1,-0.075H-0.4V0.075H-1Z M0.4,-0.075H1V0.075H0.4Z M0.22,0A0.22,0.22 0 1,1 -0.22,0A0.22,0.22 0 1,1 0.22,0Z","M-1,-0.075H1V0.075H-1Z M0.22,0A0.22,0.22 0 1,1 -0.22,0A0.22,0.22 0 1,1 0.22,0Z"]},"legend":{"title":null,"orient":"bottom-right","offset":4,"labelFontSize":14,"symbolSize":289,"symbolStrokeWidth":0,"symbolOpacity":1,"padding":3,"rowPadding":-2,"labelOffset":3,"labelExpr":"length(datum.label) < 3 ? 'delay ' + datum.label + ' subsets' : datum.label"}}}},
  {"data":{"values":[{"i":1.96,"v":0.964,"t":"d"}]},
   "encoding":{"x":{"field":"i","type":"quantitative","title":"Index of subsequence"},"y":{"field":"v","type":"quantitative","title":"E/E₀"}},
   "layer":[{"mark":{"type":"point","shape":"circle","size":660,"filled":true,"color":"white","stroke":"black","strokeWidth":1,"opacity":1}},
    {"mark":{"type":"text","fontSize":22,"baseline":"middle","dy":-1,"color":"black"},"encoding":{"text":{"field":"t"}}}]}
 ]}
]
}
